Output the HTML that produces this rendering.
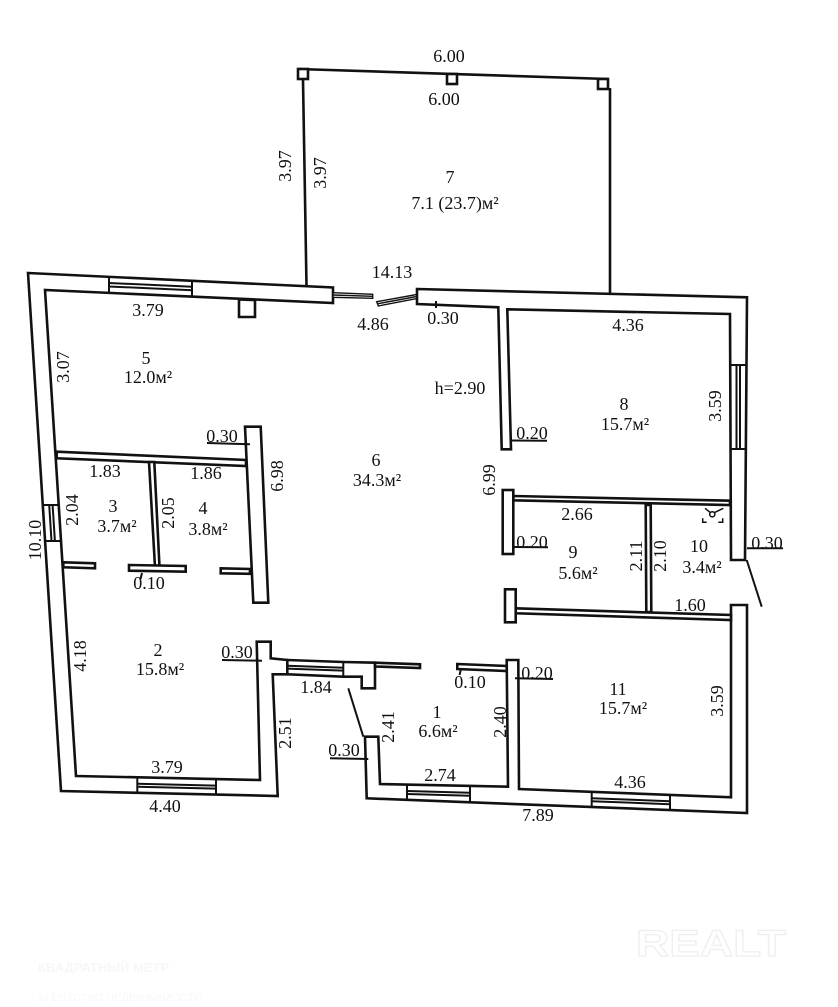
<!DOCTYPE html>
<html><head><meta charset="utf-8"><style>
html,body{margin:0;padding:0;background:#fff;}
svg{display:block;}
text{font-family:"Liberation Serif","DejaVu Serif",serif;font-size:18px;fill:#111;}
</style></head><body>
<svg width="838" height="1007" viewBox="0 0 838 1007" xmlns="http://www.w3.org/2000/svg">
<rect width="838" height="1007" fill="#fff"/>

<!-- watermark -->
<text x="636" y="956" textLength="150" lengthAdjust="spacingAndGlyphs" style="font-family:'Liberation Sans',sans-serif;font-size:37px;font-weight:bold;fill:none;stroke:#efefef;stroke-width:1.2">REALT</text>
<text x="38" y="972" style="font-family:'Liberation Sans',sans-serif;font-size:13px;font-weight:bold;fill:#f7f7f7">КВАДРАТНЫЙ МЕТР</text>
<text x="38" y="1001" style="font-family:'Liberation Sans',sans-serif;font-size:11px;fill:#f8f8f8">АГЕНТСТВО НЕДВИЖИМОСТИ</text>

<g fill="#fff" stroke="#111" stroke-width="2.6" stroke-linejoin="miter">
<!-- terrace -->
<polyline points="298,69 608,79" fill="none"/>
<line x1="303" y1="80" x2="306.5" y2="286"/>
<line x1="610" y1="88" x2="610" y2="294"/>
<rect x="298" y="69" width="10" height="10"/>
<rect x="447" y="74" width="10" height="10"/>
<rect x="598" y="79" width="10" height="10"/>

<!-- left L + room 2 walls -->
<polygon points="28,273 333,287.5 333,303 45,290 76,776 260,780 256.7,641.7 270.7,641.7 270.7,658.3 287.3,660 287.3,674.3 272.7,674.3 277.7,796 61,791"/>
<polygon points="239,299.4 255,300.1 255,317 239,317"/>

<!-- top right + right wall -->
<polygon points="417,289 747,297.3 745,560 731,560 730,314 507.3,309.3 511,449.3 501.7,449.3 498.3,307.3 417,304"/>

<!-- bottom right walls -->
<polygon points="365,736.7 378.3,736.7 380,784 508,786.7 506.7,660 518.3,660 519,789 731,797.3 731,605 747,605 747,813 366.7,798.3"/>

<!-- window wall 1.84 -->
<polygon points="287.3,660 343.3,662 375,662.7 375,688.3 361.7,688.3 361.7,676.7 343.3,676.7 287.3,674.3"/>
<polygon points="375,662.7 420,664.3 420,668 375,666.5"/>
<polygon points="457.3,664 506.7,666 506.7,671 457.3,669"/>

<!-- interior partitions left -->
<polygon points="56.7,451.7 246,460 246,466 56.7,458.3"/>
<polygon points="149,462 154.3,462 159.5,567 155,567"/>
<polygon points="245,426.7 260.7,426.7 268.3,602.7 253.3,602.7"/>
<polygon points="63.3,562.3 95,563.3 95,568.3 63.3,567.3"/>
<polygon points="129,565 185.7,566 185.7,571.7 129,570.7"/>
<polygon points="220.7,568.3 250,569 250,573.8 220.7,573.3"/>

<!-- interior partitions right -->
<polygon points="513.3,496 730,500.7 730,505 513.3,500.3"/>
<rect x="502.7" y="490" width="10.6" height="64"/>
<polygon points="645.7,505 650.7,505 651.3,612 646.3,612"/>
<polygon points="515.7,608.3 731,615 731,620 515.7,613.3"/>
<rect x="505" y="589.3" width="10.7" height="33"/>
</g>

<!-- door leaves (thin) -->
<g fill="#fff" stroke="#111" stroke-width="1.4">
<polygon points="333,292.7 372.7,294.3 372.7,298.3 333,297.3"/>
<polygon points="376.7,301.7 416.7,294.5 416.7,298.5 378.3,306"/>
<line x1="333" y1="295" x2="372.7" y2="296.3"/>
<line x1="377.5" y1="303.8" x2="416.7" y2="296.5"/>
</g>

<g stroke="#111" stroke-width="2" fill="none">
<line x1="109" y1="276.7" x2="109" y2="292.9"/>
<line x1="192" y1="280.5" x2="192" y2="296.6"/>
<line x1="109" y1="283" x2="192" y2="286.7"/>
<line x1="109" y1="286.5" x2="192" y2="290.2"/>
<line x1="42.8" y1="505" x2="58.7" y2="505"/>
<line x1="45.1" y1="541" x2="61" y2="541"/>
<line x1="49.2" y1="505" x2="51.5" y2="541"/>
<line x1="52.6" y1="505" x2="54.9" y2="541"/>
<line x1="137.3" y1="777.3" x2="137.3" y2="792.8"/>
<line x1="216" y1="779" x2="216" y2="794.6"/>
<line x1="137.3" y1="783.8" x2="216" y2="785.6"/>
<line x1="137.3" y1="786.8" x2="216" y2="788.6"/>
<line x1="343.3" y1="662" x2="343.3" y2="676.7"/>
<line x1="287.3" y1="665.8" x2="343.3" y2="667.8"/>
<line x1="287.3" y1="668.6" x2="343.3" y2="670.6"/>
<line x1="730" y1="365" x2="746.5" y2="365"/>
<line x1="730" y1="449" x2="746" y2="449"/>
<line x1="736.5" y1="365" x2="736.5" y2="449"/>
<line x1="740" y1="365" x2="740" y2="449"/>
<line x1="407" y1="784.6" x2="407" y2="799.8"/>
<line x1="470" y1="785.9" x2="470" y2="802.2"/>
<line x1="407" y1="791" x2="470" y2="792.8"/>
<line x1="407" y1="794" x2="470" y2="795.8"/>
<line x1="591.7" y1="791.8" x2="591.7" y2="806.8"/>
<line x1="670" y1="794.9" x2="670" y2="809.8"/>
<line x1="591.7" y1="798.2" x2="670" y2="801.2"/>
<line x1="591.7" y1="801.2" x2="670" y2="804.2"/>
<line x1="348.3" y1="688.3" x2="363.3" y2="736.7"/>
<line x1="746.7" y1="560" x2="761.7" y2="606.7"/>
<line x1="436" y1="301" x2="436" y2="308"/>
<line x1="461" y1="669" x2="459.5" y2="675"/>
<line x1="142" y1="573" x2="140.5" y2="579"/>
<line x1="510" y1="440.5" x2="547" y2="440.8"/>
<line x1="207" y1="443" x2="250" y2="444.3"/>
<line x1="513" y1="547" x2="548" y2="547.3"/>
<line x1="747" y1="548.3" x2="783" y2="548.3"/>
<line x1="222" y1="660" x2="262" y2="660.7"/>
<line x1="515" y1="678.3" x2="553" y2="679"/>
<line x1="330" y1="758.3" x2="368.3" y2="759"/>
<path d="M705,508.3 L710.3,512.6 M723.3,508.3 L714.5,512.6" stroke-width="1.5"/>
<circle cx="712.3" cy="514.3" r="2.6" stroke-width="1.5"/>
<path d="M702.7,518.3 L702.7,522.3 L706.7,522.3 M722.7,518.3 L722.7,522.3 L718.3,522.3" stroke-width="1.5"/>
</g>

<g text-anchor="middle">
<text x="449" y="62">6.00</text>
<text x="444" y="105">6.00</text>
<text x="450" y="183">7</text>
<text x="455" y="209">7.1 (23.7)м²</text>
<text x="392" y="278">14.13</text>
<text x="373" y="330">4.86</text>
<text x="443" y="324">0.30</text>
<text x="148" y="316">3.79</text>
<text x="628" y="331">4.36</text>
<text x="146" y="364">5</text>
<text x="148" y="383">12.0м²</text>
<text x="460" y="394">h=2.90</text>
<text x="624" y="410">8</text>
<text x="625" y="430">15.7м²</text>
<text x="532" y="439">0.20</text>
<text x="222" y="442">0.30</text>
<text x="105" y="477">1.83</text>
<text x="206" y="479">1.86</text>
<text x="376" y="466">6</text>
<text x="377" y="486">34.3м²</text>
<text x="577" y="520">2.66</text>
<text x="113" y="512">3</text>
<text x="117" y="532">3.7м²</text>
<text x="203" y="514">4</text>
<text x="208" y="535">3.8м²</text>
<text x="149" y="589">0.10</text>
<text x="532" y="548">0.20</text>
<text x="573" y="558">9</text>
<text x="578" y="579">5.6м²</text>
<text x="699" y="552">10</text>
<text x="702" y="573">3.4м²</text>
<text x="767" y="549">0.30</text>
<text x="690" y="611">1.60</text>
<text x="237" y="658">0.30</text>
<text x="158" y="656">2</text>
<text x="160" y="675">15.8м²</text>
<text x="316" y="693">1.84</text>
<text x="470" y="688">0.10</text>
<text x="537" y="679">0.20</text>
<text x="618" y="695">11</text>
<text x="623" y="714">15.7м²</text>
<text x="437" y="718">1</text>
<text x="438" y="737">6.6м²</text>
<text x="344" y="756">0.30</text>
<text x="167" y="773">3.79</text>
<text x="440" y="781">2.74</text>
<text x="630" y="788">4.36</text>
<text x="165" y="812">4.40</text>
<text x="538" y="821">7.89</text>
</g>

<g text-anchor="middle">
<text transform="translate(285,166) rotate(-90)" y="6">3.97</text>
<text transform="translate(320,173) rotate(-90)" y="6">3.97</text>
<text transform="translate(63,367) rotate(-90)" y="6">3.07</text>
<text transform="translate(715,406) rotate(-90)" y="6">3.59</text>
<text transform="translate(277,476) rotate(-90)" y="6">6.98</text>
<text transform="translate(489,480) rotate(-90)" y="6">6.99</text>
<text transform="translate(72,510) rotate(-90)" y="6">2.04</text>
<text transform="translate(168,513) rotate(-90)" y="6">2.05</text>
<text transform="translate(35,540) rotate(-90)" y="6">10.10</text>
<text transform="translate(636,556) rotate(-90)" y="6">2.11</text>
<text transform="translate(660,556) rotate(-90)" y="6">2.10</text>
<text transform="translate(80,656) rotate(-90)" y="6">4.18</text>
<text transform="translate(717,701) rotate(-90)" y="6">3.59</text>
<text transform="translate(285,733) rotate(-90)" y="6">2.51</text>
<text transform="translate(388,727) rotate(-90)" y="6">2.41</text>
<text transform="translate(500,722) rotate(-90)" y="6">2.40</text>
</g>
</svg>
</body></html>
